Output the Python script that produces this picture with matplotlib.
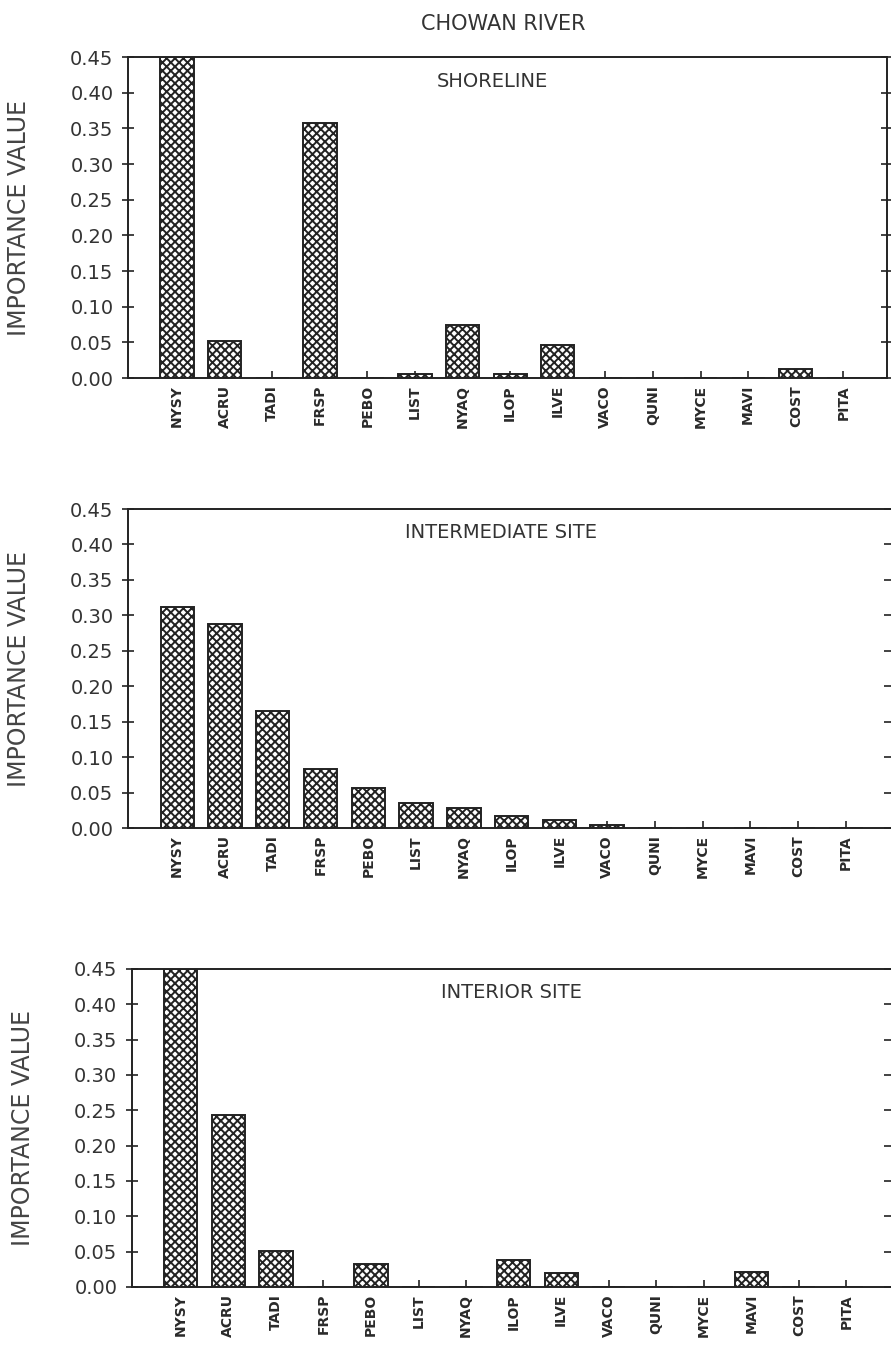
import matplotlib
matplotlib.use("Agg")
import matplotlib.pyplot as plt

species = ["NYSY", "ACRU", "TADI", "FRSP", "PEBO", "LIST", "NYAQ", "ILOP",
           "ILVE", "VACO", "QUNI", "MYCE", "MAVI", "COST", "PITA"]

shoreline = [0.45, 0.052, 0.0, 0.357, 0.0, 0.005, 0.074, 0.005,
             0.046, 0.0, 0.0, 0.0, 0.0, 0.012, 0.0]
intermediate = [0.312, 0.288, 0.165, 0.083, 0.057, 0.036, 0.028, 0.017,
                0.011, 0.004, 0.0, 0.0, 0.0, 0.0, 0.0]
interior = [0.45, 0.244, 0.051, 0.0, 0.032, 0.0, 0.0, 0.038,
            0.020, 0.0, 0.0, 0.0, 0.021, 0.0, 0.0]

panel_titles = ["SHORELINE", "INTERMEDIATE SITE", "INTERIOR SITE"]
yticks = [0.00, 0.05, 0.10, 0.15, 0.20, 0.25, 0.30, 0.35, 0.40, 0.45]

plt.rcParams["hatch.linewidth"] = 1.4
plt.rcParams["font.family"] = ["DejaVu Sans"]

fig = plt.figure(figsize=(8.91, 13.51), dpi=100)

# [left, bottom, width, height] for each panel
boxes = [
    [0.1437, 0.7202, 0.852, 0.2376],
    [0.1437, 0.3871, 0.855, 0.2361],
    [0.1480, 0.0474, 0.851, 0.2354],
]
series = [shoreline, intermediate, interior]
ink = "#222222"

for i, (box, vals, ttl) in enumerate(zip(boxes, series, panel_titles)):
    ax = fig.add_axes(box)
    x = list(range(len(species)))
    ax.bar(x, vals, width=0.7, color="white", edgecolor=ink,
           hatch="xxxx", linewidth=1.4, zorder=2)
    ax.set_xlim(-1.03, 14.92)
    ax.set_ylim(0, 0.45)

    ax.set_yticks(yticks)
    ax.set_yticklabels([f"{v:.2f}" for v in yticks], fontsize=14, color="#333333")
    ax.tick_params(axis="y", which="both", direction="inout", length=9,
                   width=1.2, color=ink, right=True, labelright=False, pad=6)
    ax.set_xticks(x)
    ax.set_xticklabels(species, rotation=90, fontsize=10, fontweight="bold",
                       color="#2a2a2a")
    ax.tick_params(axis="x", direction="in", length=5, width=1.2, color=ink, pad=5)

    for side in ["left", "bottom", "top", "right"]:
        ax.spines[side].set_color(ink)
        ax.spines[side].set_linewidth(1.4)
    if i > 0:
        ax.spines["right"].set_visible(False)

    ax.text(0.48 + 0.01 * i, 0.925, ttl, transform=ax.transAxes, ha="center",
            va="center", fontsize=14, color="#333333")
    ax.set_ylabel("IMPORTANCE VALUE", fontsize=17, color="#444444")
    ax.yaxis.set_label_coords(-0.128, 0.5)

fig.text(0.565, 0.982, "CHOWAN RIVER", ha="center", va="center",
         fontsize=15, color="#333333")

fig.savefig("out.png", dpi=100)
